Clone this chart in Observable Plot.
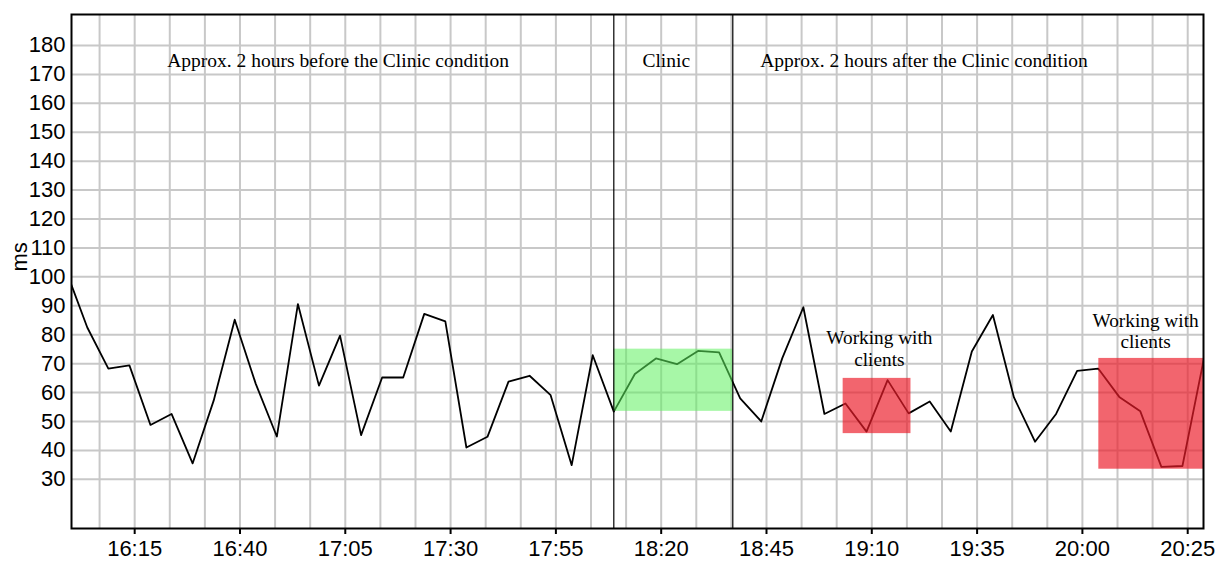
<!DOCTYPE html>
<html><head><meta charset="utf-8">
<script src="https://cdn.jsdelivr.net/npm/d3@7"></script>
<script src="https://cdn.jsdelivr.net/npm/@observablehq/plot@0.6"></script>
<style>html,body{margin:0;padding:0;background:#fff;} #chart svg{display:block;}</style>
</head><body><div id="chart"></div>
<script>
// sample times (clock) and values (ms)
const times = ["15:58:45","16:03:45","16:08:45","16:13:45","16:18:45","16:23:45","16:28:45","16:33:45","16:38:45","16:43:45",
  "16:48:45","16:53:45","16:58:45","17:03:45","17:08:45","17:13:45","17:18:45","17:23:45","17:28:45","17:33:45",
  "17:38:45","17:43:45","17:48:45","17:53:45","17:58:45","18:03:45","18:08:45","18:13:45","18:18:45","18:23:45",
  "18:28:45","18:33:45","18:38:45","18:43:45","18:48:45","18:53:45","18:58:45","19:03:45","19:08:45","19:13:45",
  "19:18:45","19:23:45","19:28:45","19:33:45","19:38:45","19:43:45","19:48:45","19:53:45","19:58:45","20:03:45",
  "20:08:45","20:13:45","20:18:45","20:23:45","20:28:45"];
const values = [102, 82.5, 68.3, 69.4, 48.8, 52.6, 35.5, 57.2, 85.2, 63,
  44.8, 90.6, 62.4, 79.7, 45.3, 65.2, 65.2, 87.2, 84.6, 41.0,
  44.7, 63.8, 65.8, 59.1, 34.9, 72.9, 53.4, 66.4, 71.8, 69.8,
  74.4, 73.9, 58, 50.0, 71.9, 89.5, 52.6, 56.2, 46.5, 64.3,
  52.8, 56.9, 46.5, 74.2, 86.8, 58.3, 43.0, 52.6, 67.5, 68.3,
  58.5, 53.5, 34.3, 34.6, 71.0];

const xTickLabels = ["16:15","16:40","17:05","17:30","17:55","18:20","18:45","19:10","19:35","20:00","20:25"];
const yTicks = [30,40,50,60,70,80,90,100,110,120,130,140,150,160,170,180];
const xStart = "16:00:00", xEnd = "20:28:45";
const yMin = 13, yMax = 190.7;

const dividerTimes = ["18:08:45","18:37:00"];

const boxStart = ["18:08:45","19:03:12","20:03:54"];
const boxEnd   = ["18:37:00","19:19:18","20:28:45"];
const boxLow   = [53.5, 45.8, 33.5];
const boxHigh  = [75.0, 64.9, 71.8];
const boxFill  = ["#5ef05e", "#ec1c2a", "#ec1c2a"];
const boxOpacity = [0.55, 0.68, 0.68];

const regionLabels = ["Approx. 2 hours before the Clinic condition","Clinic","Approx. 2 hours after the Clinic condition"];
const regionLabelTimes = ["17:03:18","18:21:12","19:22:24"];
const regionLabelValue = 174.6;

const clientLabels = ["Working with\nclients","Working with\nclients"];
const clientLabelTimes = ["19:11:48","20:15:00"];
const clientLabelValues = [75.4, 81.5];

const yLabel = "ms";

// helpers
const parse = s => { const p = s.split(":").map(Number); return (p[0]-16)*60 + p[1] + (p[2]||0)/60; };
const fmt = m => { const h = 16 + Math.floor(m/60), mm = Math.round(m - Math.floor(m/60)*60); return `${h}:${String(mm).padStart(2,"0")}`; };

const data = times.map((t,i) => ({t: parse(t), v: values[i]}));
const xTicks = xTickLabels.map(parse);
const step = (xTicks[1]-xTicks[0])/3;
const xGrid = [];
for (const t of xTicks) { xGrid.push(t - step, t, t + step); }
const xGridIn = xGrid.filter(t => t > 0 && t < parse(xEnd));
const boxes = boxStart.map((s,i) => ({x1: parse(s), x2: parse(boxEnd[i]), y1: boxLow[i], y2: boxHigh[i], fill: boxFill[i], op: boxOpacity[i]}));
const regions = regionLabels.map((l,i) => ({t: parse(regionLabelTimes[i]), v: regionLabelValue, l}));
const clients = clientLabels.map((l,i) => ({t: parse(clientLabelTimes[i]), v: clientLabelValues[i], l}));

const chart = Plot.plot({
  width: 1215, height: 561,
  marginLeft: 71, marginRight: 12, marginTop: 14, marginBottom: 33,
  style: {fontFamily: "Liberation Sans, Arial, sans-serif", fontSize: "22px", background: "#fff", color: "#000"},
  x: {domain: [parse(xStart), parse(xEnd)], label: null},
  y: {domain: [yMin, yMax], label: null},
  marks: [
    Plot.ruleX(xGridIn, {stroke: "#c8c8c8", strokeWidth: 2}),
    Plot.ruleY(yTicks, {stroke: "#c8c8c8", strokeWidth: 2}),
    Plot.line(data, {x: "t", y: "v", stroke: "#000", strokeWidth: 1.8, clip: true}),
    Plot.rect(boxes, {x1: "x1", x2: "x2", y1: "y1", y2: "y2", fill: d => d.fill, fillOpacity: d => d.op}),
    Plot.ruleX(dividerTimes.map(parse), {stroke: "#000", strokeWidth: 1.2}),
    Plot.text(regions, {x: "t", y: "v", text: "l", fontFamily: "Liberation Serif, Times New Roman, serif", fontSize: 19.5, fill: "#000"}),
    Plot.text(clients, {x: "t", y: "v", text: "l", fontFamily: "Liberation Serif, Times New Roman, serif", fontSize: 19.3, lineHeight: 1.11, fill: "#000"}),
    Plot.frame({stroke: "#000", strokeWidth: 2}),
    Plot.axisX(xTicks, {tickSize: 6, tickPadding: 6, strokeWidth: 2, tickFormat: fmt, fontSize: 22, label: null}),
    Plot.axisY(yTicks, {tickSize: 0, tickPadding: 6, fontSize: 22, label: null}),
    Plot.text([yLabel], {frameAnchor: "left", rotate: -90, dx: -52, fontSize: 22, fill: "#000"})
  ]
});
document.getElementById("chart").appendChild(chart);
</script>
</body></html>
